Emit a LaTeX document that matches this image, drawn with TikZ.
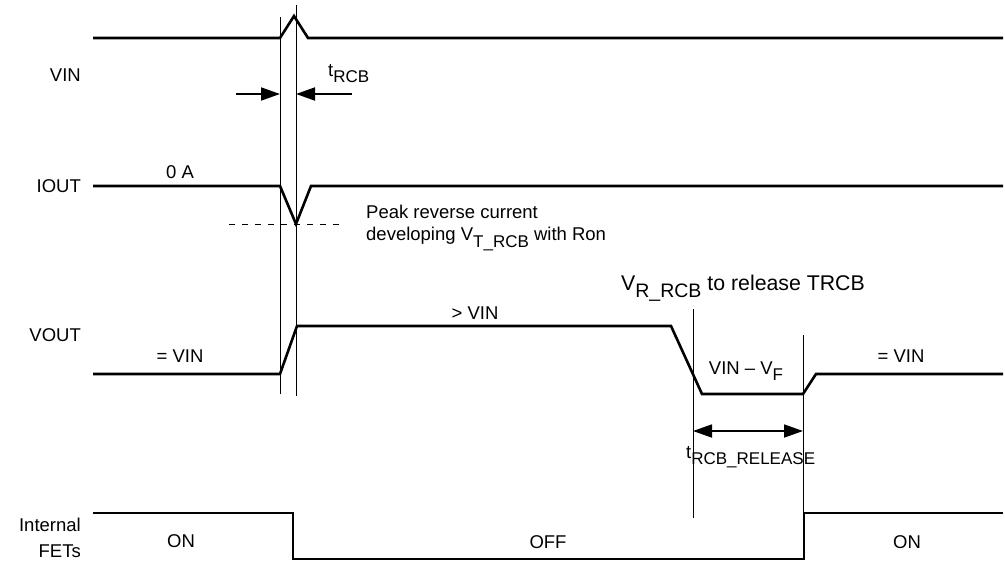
\documentclass[tikz,border=0pt]{standalone}
\usepackage{fontspec}
\setmainfont{Liberation Sans}
\usetikzlibrary{arrows.meta}
\newcommand{\mysub}[1]{\raisebox{-0.33em}{\fontsize{17}{17}\selectfont #1}}
\newcommand{\mybigsub}[1]{\raisebox{-0.33em}{\fontsize{19.5}{20}\selectfont #1}}
\begin{document}
\begin{tikzpicture}[x=1pt,y=-1pt,
  sig/.style={line width=2.6pt,line join=miter},
  thin/.style={line width=1pt},
  lbl/.style={font=\fontsize{18.5}{20}\selectfont,inner sep=0pt},
  dim/.style={line width=1.8pt,-{Triangle[length=19pt,width=13pt]}},
  dimb/.style={line width=1.8pt,{Triangle[length=19pt,width=13pt]}-{Triangle[length=19pt,width=13pt]}}]
\useasboundingbox (0,0) rectangle (1005,565);
\fill[white] (0,0) rectangle (1005,565);
% signals
\draw[sig] (93,38) -- (280,38) -- (294,16) -- (308,38) -- (1003,38);
\draw[sig] (93,186) -- (280,186) -- (296,224) -- (311,186) -- (1003,186);
\draw[sig] (93,374) -- (280,374) -- (297,326) -- (671,326) -- (702,394) -- (803,394) -- (816,374) -- (1003,374);
\draw[sig] (93,513) -- (293,513) -- (293,559) -- (804,559) -- (804,513) -- (1003,513);
% thin verticals
\draw[thin] (280,17) -- (280,394);
\draw[thin] (296,5) -- (296,396);
\draw[thin] (693,309) -- (693,518);
\draw[thin] (803,335) -- (803,513);
% dashed
\draw[thin,dash pattern=on 6pt off 7pt] (229,224) -- (345,224);
% dimension arrows
\coordinate (a1) at (236,94); \coordinate (a2) at (280,94);
\coordinate (b1) at (352,94); \coordinate (b2) at (296,94);
\draw[dim] (a1) -- (a2);
\draw[dim] (b1) -- (b2);
\coordinate (c1) at (693,431); \coordinate (c2) at (803,431);
\draw[dimb] (c1) -- (c2);
% labels
\node[lbl,anchor=east] (lvin) at (81,75) {VIN};
\node[lbl,anchor=east] (liout) at (81,186) {IOUT};
\node[lbl,anchor=east] (lvout) at (81,335) {VOUT};
\node[lbl,anchor=east] (lint) at (81,525) {Internal};
\node[lbl,anchor=east] (lfet) at (81,551) {FETs};
\node[lbl,anchor=west] (trcb) at (328,74) {t\mysub{RCB}};
\node[lbl] (oa) at (180,172) {0 A};
\node[lbl,anchor=west] (peak1) at (366,212) {Peak reverse current};
\node[lbl,anchor=west] (peak2) at (366,239) {developing V\mysub{T\_RCB} with Ron};
\node[lbl] (gvin) at (475,313) {> VIN};
\node[lbl] (eq1) at (180,356) {= VIN};
\node[lbl] (eq2) at (901,356) {= VIN};
\node[lbl,font=\fontsize{21.3}{22}\selectfont,anchor=west] (vr) at (621,288) {V\mybigsub{R\_RCB} to release TRCB};
\node[lbl] (vf) at (746,371) {VIN – V\mysub{F}};
\node[lbl,anchor=west] (trel) at (686,457) {t\mysub{RCB\_RELEASE}};
\node[lbl] (on1) at (181,541) {ON};
\node[lbl] (off) at (548,542) {OFF};
\node[lbl] (on2) at (907,542) {ON};
\end{tikzpicture}
\end{document}
